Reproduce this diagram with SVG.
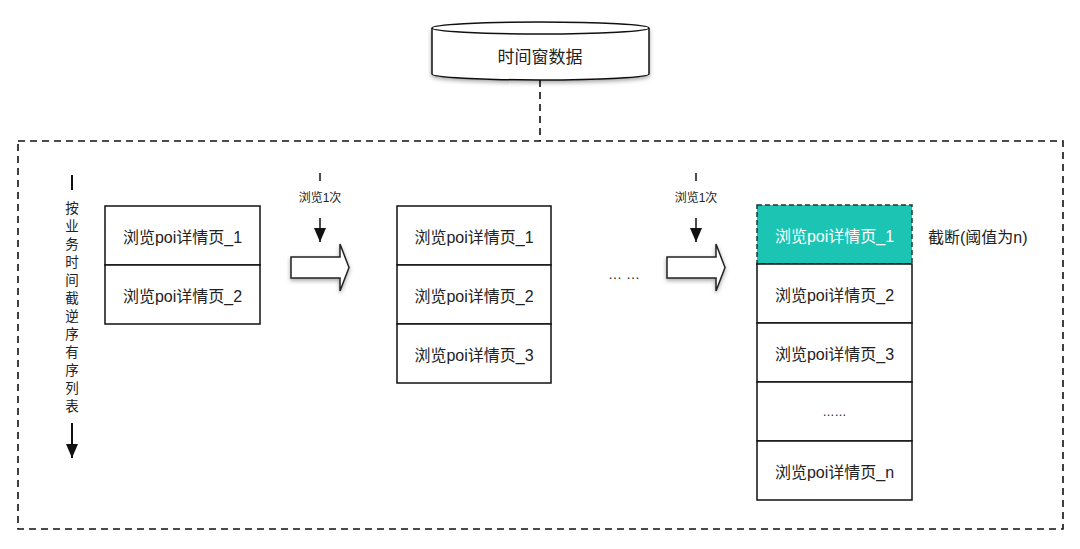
<svg xmlns="http://www.w3.org/2000/svg" width="1080" height="549" viewBox="0 0 1080 549">
<defs>
<style>
text{font-family:"Liberation Sans","Noto Sans CJK SC",sans-serif;fill:#222;}
.box{fill:#fff;stroke:#111;stroke-width:1.5;}
.lbl{font-size:16px;text-anchor:middle;dominant-baseline:central;}
.small{font-size:12px;text-anchor:middle;dominant-baseline:central;}
.vert{font-size:13.5px;text-anchor:middle;dominant-baseline:central;}
.dash{fill:none;stroke:#111;stroke-width:1.6;stroke-dasharray:7,5;}
.blk{fill:#fff;stroke:#222;stroke-width:1.5;filter:url(#sh);}
</style>
<filter id="sh" x="-20%" y="-20%" width="140%" height="150%">
<feDropShadow dx="0" dy="2" stdDeviation="2" flood-color="#000" flood-opacity="0.35"/>
</filter>
<marker id="ah" viewBox="0 0 14 12" refX="14" refY="6" markerWidth="14" markerHeight="12" markerUnits="userSpaceOnUse" orient="auto">
<path d="M0,0 L14,6 L0,12 Z" fill="#111"/>
</marker>
</defs>

<g id="connectors">
<line x1="540" y1="80" x2="540" y2="141" class="dash"/>
<line x1="72" y1="175" x2="72" y2="190" stroke="#111" stroke-width="2"/>
<line x1="72" y1="423" x2="72" y2="458" stroke="#111" stroke-width="2" marker-end="url(#ah)"/>
<line x1="320" y1="173" x2="320" y2="181" stroke="#111" stroke-width="1.5"/>
<line x1="320" y1="218" x2="320" y2="242" stroke="#111" stroke-width="1.5" marker-end="url(#ah)"/>
<line x1="696" y1="173" x2="696" y2="181" stroke="#111" stroke-width="1.5"/>
<line x1="696" y1="218" x2="696" y2="242" stroke="#111" stroke-width="1.5" marker-end="url(#ah)"/>
</g>

<g id="container">
<rect x="18" y="141" width="1045" height="388" class="dash"/>
</g>

<g id="db">
<path d="M432,28 L432,74 A108.5,6 0 0 0 649,74 L649,28" fill="#fff" stroke="#111" stroke-width="1.5" filter="url(#sh)"/>
<ellipse cx="540.5" cy="28" rx="108.5" ry="6" fill="#fff" stroke="#111" stroke-width="1.5"/>
<text x="540" y="57" class="lbl" style="font-size:17px">时间窗数据</text>
</g>

<g id="order-label">
<text class="vert" x="72" y="208">按</text>
<text class="vert" x="72" y="226">业</text>
<text class="vert" x="72" y="244">务</text>
<text class="vert" x="72" y="262">时</text>
<text class="vert" x="72" y="280">间</text>
<text class="vert" x="72" y="298">截</text>
<text class="vert" x="72" y="316">逆</text>
<text class="vert" x="72" y="334">序</text>
<text class="vert" x="72" y="352">有</text>
<text class="vert" x="72" y="370">序</text>
<text class="vert" x="72" y="388">列</text>
<text class="vert" x="72" y="406">表</text>
</g>

<g id="stack1">
<rect x="105" y="206" width="155" height="59" class="box"/>
<rect x="105" y="265" width="155" height="59" class="box"/>
<text x="182.5" y="237" class="lbl">浏览poi详情页_1</text>
<text x="182.5" y="296" class="lbl">浏览poi详情页_2</text>
</g>

<g id="step1">
<text x="320" y="198" class="small">浏览1次</text>
<path d="M291,257 L340,257 L340,244 L349,267.5 L340,291 L340,278 L291,278 Z" class="blk"/>
</g>

<g id="stack2">
<rect x="397" y="206" width="154" height="59" class="box"/>
<rect x="397" y="265" width="154" height="59" class="box"/>
<rect x="397" y="324" width="154" height="59" class="box"/>
<text x="474" y="237" class="lbl">浏览poi详情页_1</text>
<text x="474" y="296" class="lbl">浏览poi详情页_2</text>
<text x="474" y="355" class="lbl">浏览poi详情页_3</text>
</g>

<g id="ellipsis">
<text x="624" y="274" class="lbl" style="font-size:14px">… …</text>
</g>

<g id="step2">
<text x="696" y="198" class="small">浏览1次</text>
<path d="M667,257 L716,257 L716,244 L725,267.5 L716,291 L716,278 L667,278 Z" class="blk"/>
</g>

<g id="stack3">
<rect x="757" y="205" width="155" height="59" fill="#1cc4b4" stroke="#1a3a36" stroke-width="1.5" stroke-dasharray="5,3"/>
<rect x="757" y="264" width="155" height="59" class="box"/>
<rect x="757" y="323" width="155" height="59" class="box"/>
<rect x="757" y="382" width="155" height="59" class="box"/>
<rect x="757" y="441" width="155" height="59" class="box"/>
<text x="834.5" y="236" class="lbl" style="fill:#fff">浏览poi详情页_1</text>
<text x="834.5" y="295" class="lbl">浏览poi详情页_2</text>
<text x="834.5" y="354" class="lbl">浏览poi详情页_3</text>
<text x="834.5" y="412" class="lbl" style="font-size:12px">……</text>
<text x="834.5" y="472" class="lbl">浏览poi详情页_n</text>
</g>

<g id="cut-label">
<text x="928" y="237" style="font-size:16px;dominant-baseline:central">截断(阈值为n)</text>
</g>
</svg>
